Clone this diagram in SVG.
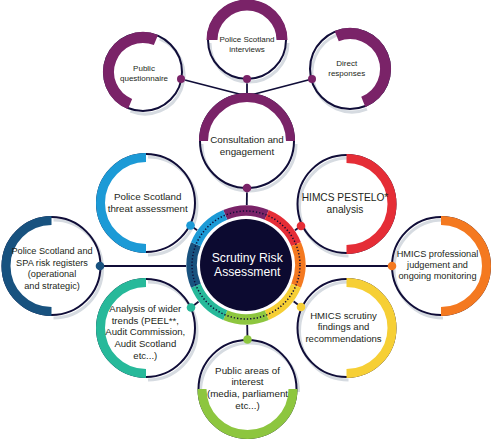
<svg xmlns="http://www.w3.org/2000/svg" width="492" height="440" viewBox="0 0 492 440">
<style>
.wf{fill:#fff}
.nv{fill:none;stroke:#100d38;stroke-width:2}
.sh{fill:none;stroke:#d6dbe1;stroke-width:3}
.bd{fill:none;stroke-width:9}
.bs{fill:none;stroke-width:11}
.t{font-family:"Liberation Sans",Arial,sans-serif;fill:#231f20;text-anchor:middle}
.cn{stroke:#100d38;stroke-width:1.8;fill:none}
.seg{fill:none;stroke-width:10.5}
</style>
<defs>
<path id="h50" d="M0,-45.5A45.5,45.5 0 0 1 0,45.5"/>
<path id="s50" d="M0,-49A49,49 0 0 1 0,49"/>
<path id="seg" d="M-20.76,-50.12A54.25,54.25 0 0 1 20.76,-50.12"/>
</defs>
<g id="connectors" class="cn">
<line x1="181" y1="79" x2="247" y2="96"/>
<line x1="247" y1="79" x2="247" y2="96"/>
<line x1="312" y1="79" x2="247" y2="96"/>
<line x1="247" y1="188" x2="246" y2="265"/>
<line x1="190.5" y1="225.5" x2="246" y2="265"/>
<line x1="301" y1="226" x2="246" y2="265"/>
<line x1="100" y1="266" x2="392" y2="266"/>
<line x1="191" y1="307.5" x2="246" y2="265"/>
<line x1="301" y1="307" x2="246" y2="265"/>
<line x1="247.5" y1="339.5" x2="246" y2="265"/>
</g>
<g id="n-interviews" transform="translate(247,40)">
<circle class="wf" r="39"/>
<path class="sh" transform="translate(2,3)" d="M39,0A39,39 0 0 1 -39,0"/>
<circle class="nv" r="39"/>
<path class="bs" stroke="#7a2368" stroke-width="10" d="M-35,0A35,35 0 0 1 35,0"/>
<text class="t" font-size="8"><tspan x="0" y="2.3">Police Scotland</tspan><tspan x="0" y="11.7">interviews</tspan></text>
<circle cx="0" cy="39" r="4" fill="#7a2368"/>
</g>
<g id="n-questionnaire" transform="translate(143,72)">
<circle class="wf" r="39"/>
<path class="sh" transform="translate(2,3) rotate(22)" d="M0,-39A39,39 0 0 1 0,39"/>
<circle class="nv" r="39"/>
<path class="bs" stroke="#7a2368" transform="rotate(202)" d="M0,-34.5A34.5,34.5 0 0 1 0,34.5"/>
<text class="t" font-size="8"><tspan x="1" y="-0.7">Public</tspan><tspan x="1" y="9">questionnaire</tspan></text>
<circle cx="38" cy="7" r="4" fill="#7a2368"/>
</g>
<g id="n-direct" transform="translate(350,69)">
<circle class="wf" r="40"/>
<path class="sh" transform="translate(2,3) rotate(158)" d="M0,-40A40,40 0 0 1 0,40"/>
<circle class="nv" r="40"/>
<path class="bs" stroke="#7a2368" transform="rotate(-22)" d="M0,-35.5A35.5,35.5 0 0 1 0,35.5"/>
<text class="t" font-size="8"><tspan x="-3.3" y="-2.7">Direct</tspan><tspan x="-3.3" y="7">responses</tspan></text>
<circle cx="-38" cy="10" r="4" fill="#7a2368"/>
</g>
<g id="n-consultation" transform="translate(247,141)">
<circle class="wf" r="47"/>
<path class="sh" transform="translate(2,3)" d="M47,0A47,47 0 0 1 -47,0"/>
<circle class="nv" r="47"/>
<path class="bd" stroke="#7a2368" d="M-43.5,0A43.5,43.5 0 0 1 43.5,0"/>
<text class="t" font-size="9.8"><tspan x="0" y="1.8">Consultation and</tspan><tspan x="0" y="13.5">engagement</tspan></text>
<circle cx="0" cy="47" r="4.3" fill="#7a2368"/>
</g>
<g id="n-threat" transform="translate(146,203)">
<circle class="wf" r="49"/>
<use href="#s50" class="sh" transform="translate(2,3)"/>
<circle class="nv" r="49"/>
<use href="#h50" class="bd" stroke="#1c9ad6" transform="rotate(180)"/>
<text class="t" font-size="9.8"><tspan x="1.7" y="-3">Police Scotland</tspan><tspan x="1.7" y="8.7">threat assessment</tspan></text>
<circle cx="44.5" cy="22.5" r="4.3" fill="#1c9ad6"/>
</g>
<g id="n-pestelo" transform="translate(346.5,204)">
<circle class="wf" r="49"/>
<use href="#s50" class="sh" transform="translate(2,3) rotate(180)"/>
<circle class="nv" r="49"/>
<use href="#h50" class="bd" stroke="#e52d36"/>
<text class="t" font-size="10.2"><tspan x="-1.5" y="-3">HIMCS PESTELO*</tspan><tspan x="-1.5" y="8.5">analysis</tspan></text>
<circle cx="-45.5" cy="22" r="4.3" fill="#e52d36"/>
</g>
<g id="n-registers" transform="translate(51.5,266)">
<circle class="wf" r="49"/>
<use href="#s50" class="sh" transform="translate(2,3)"/>
<circle class="nv" r="49"/>
<use href="#h50" class="bd" stroke="#18527f" transform="rotate(180)"/>
<text class="t" font-size="9.2"><tspan x="0.5" y="-12">Police Scotland and</tspan><tspan x="0.5" y="-0.5">SPA risk registers</tspan><tspan x="0.5" y="11">(operational</tspan><tspan x="0.5" y="22.5">and strategic)</tspan></text>
<circle cx="48.5" cy="0" r="4.3" fill="#18527f"/>
</g>
<g id="n-judgement" transform="translate(441,266)">
<circle class="wf" r="49"/>
<use href="#s50" class="sh" transform="translate(2,3) rotate(180)"/>
<circle class="nv" r="49"/>
<use href="#h50" class="bd" stroke="#f47920"/>
<text class="t" font-size="9.2"><tspan x="-3.5" y="-9.5">HMICS professional</tspan><tspan x="-3.5" y="1.8">judgement and</tspan><tspan x="-3.5" y="13.1">ongoing monitoring</tspan></text>
<circle cx="-49" cy="0" r="4.3" fill="#f47920"/>
</g>
<g id="n-trends" transform="translate(146,328)">
<circle class="wf" r="49"/>
<use href="#s50" class="sh" transform="translate(2,3)"/>
<circle class="nv" r="49"/>
<use href="#h50" class="bd" stroke="#27b99a" transform="rotate(180)"/>
<text class="t" font-size="9.6"><tspan x="-0.7" y="-16.2">Analysis of wider</tspan><tspan x="-0.7" y="-4.5">trends (PEEL**,</tspan><tspan x="-0.7" y="7.2">Audit Commission,</tspan><tspan x="-0.7" y="18.9">Audit Scotland</tspan><tspan x="-0.7" y="30.6">etc...)</tspan></text>
<circle cx="45" cy="-20.5" r="4.3" fill="#27b99a"/>
</g>
<g id="n-findings" transform="translate(346.5,328)">
<circle class="wf" r="49"/>
<use href="#s50" class="sh" transform="translate(2,3) rotate(180)"/>
<circle class="nv" r="49"/>
<use href="#h50" class="bd" stroke="#f6cf35"/>
<text class="t" font-size="9.6"><tspan x="-3" y="-9.5">HMICS scrutiny</tspan><tspan x="-3" y="2.2">findings and</tspan><tspan x="-3" y="13.9">recommendations</tspan></text>
<circle cx="-45.5" cy="-21" r="4.3" fill="#f6cf35"/>
</g>
<g id="n-public" transform="translate(247.5,389)">
<circle class="wf" r="49"/>
<use href="#s50" class="sh" transform="translate(2,3) rotate(-90)"/>
<circle class="nv" r="49"/>
<use href="#h50" class="bd" stroke="#8dc63f" transform="rotate(90)"/>
<text class="t" font-size="9.8"><tspan x="0" y="-15.5">Public areas of</tspan><tspan x="0" y="-3.8">interest</tspan><tspan x="0" y="7.9">(media, parliament</tspan><tspan x="0" y="19.6">etc...)</tspan></text>
<circle cx="0" cy="-49.5" r="4.3" fill="#8dc63f"/>
</g>
<g id="n-center" transform="translate(246,265)">
<circle r="60" fill="#fff"/>
<use href="#seg" class="seg" stroke="#7a2368"/>
<use href="#seg" class="seg" stroke="#e52d36" transform="rotate(45)"/>
<use href="#seg" class="seg" stroke="#f47920" transform="rotate(90)"/>
<use href="#seg" class="seg" stroke="#f6cf35" transform="rotate(135)"/>
<use href="#seg" class="seg" stroke="#8dc63f" transform="rotate(180)"/>
<use href="#seg" class="seg" stroke="#27b99a" transform="rotate(225)"/>
<use href="#seg" class="seg" stroke="#18527f" transform="rotate(270)"/>
<use href="#seg" class="seg" stroke="#1c9ad6" transform="rotate(315)"/>
<circle r="54" fill="none" stroke="#0f0c36" stroke-width="1.5" stroke-dasharray="1.3 2"/>
<circle r="46" fill="#0c0a30"/>
<text class="t" font-size="12.2" style="fill:#fff"><tspan x="1.2" y="-3.5">Scrutiny Risk</tspan><tspan x="1.2" y="11">Assessment</tspan></text>
</g>
</svg>
